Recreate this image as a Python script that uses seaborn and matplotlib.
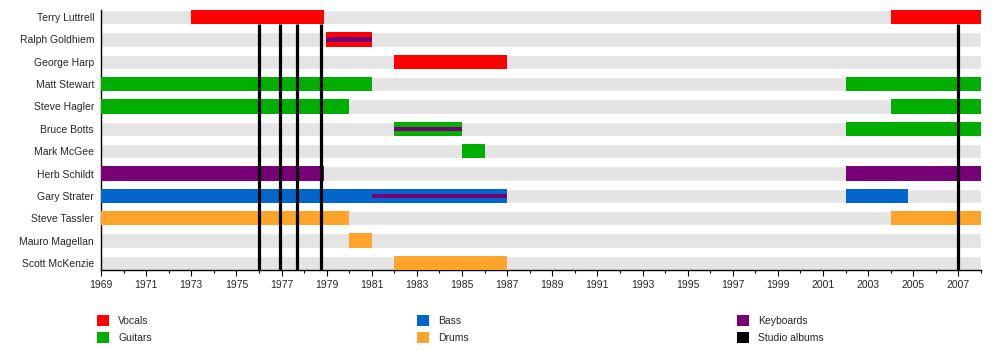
import matplotlib
matplotlib.use("Agg")
import matplotlib.pyplot as plt
from matplotlib.patches import Patch
import seaborn as sns
import pandas as pd

# ---- data ----
members = ["Terry Luttrell", "Ralph Goldhiem", "George Harp", "Matt Stewart",
           "Steve Hagler", "Bruce Botts", "Mark McGee", "Herb Schildt",
           "Gary Strater", "Steve Tassler", "Mauro Magellan", "Scott McKenzie"]

seg_member = ["Terry Luttrell", "Terry Luttrell", "Ralph Goldhiem", "George Harp",
              "Matt Stewart", "Matt Stewart", "Steve Hagler", "Steve Hagler",
              "Bruce Botts", "Bruce Botts", "Mark McGee",
              "Herb Schildt", "Herb Schildt", "Gary Strater", "Gary Strater",
              "Steve Tassler", "Steve Tassler", "Mauro Magellan", "Scott McKenzie"]
seg_role = ["Vocals", "Vocals", "Vocals", "Vocals",
            "Guitars", "Guitars", "Guitars", "Guitars",
            "Guitars", "Guitars", "Guitars",
            "Keyboards", "Keyboards", "Bass", "Bass",
            "Drums", "Drums", "Drums", "Drums"]
seg_start = [1973.0, 2004.0, 1978.95, 1982.0,
             1969.0, 2002.0, 1969.0, 2004.0,
             1982.0, 2002.0, 1985.0,
             1969.0, 2002.0, 1969.0, 2002.0,
             1969.0, 2004.0, 1980.0, 1982.0]
seg_end = [1978.9, 2008.0, 1981.0, 1987.0,
           1981.0, 2008.0, 1980.0, 2008.0,
           1985.0, 2008.0, 1986.0,
           1978.9, 2008.0, 1987.0, 2004.75,
           1980.0, 2008.0, 1981.0, 1987.0]

# secondary role stripes (thin)
stripe_member = ["Ralph Goldhiem", "Bruce Botts", "Gary Strater"]
stripe_role = ["Keyboards", "Keyboards", "Keyboards"]
stripe_start = [1978.95, 1982.0, 1981.0]
stripe_end = [1981.0, 1985.0, 1987.0]

albums = [1976.0, 1976.95, 1977.7, 1978.77, 2007.0]

year_start, year_end = 1969, 2008
tick_years = list(range(1969, 2008, 2))

role_colors = {"Vocals": "#ff0000", "Guitars": "#00ae00", "Bass": "#0066cc",
               "Drums": "#ffa42a", "Keyboards": "#770077", "Studio albums": "#000000"}

# ---- style ----
sns.set_theme(style="white")
plt.rcParams["font.family"] = ["Liberation Sans", "DejaVu Sans"]

fig = plt.figure(figsize=(10, 3.5), dpi=100)
ax = fig.add_axes([0.101, 1 - 270 / 350, 0.88, 260 / 350])

bar_h = 0.64
bg = pd.DataFrame({"member": members, "end": [year_end] * len(members)})
sns.barplot(data=bg, x="end", y="member", orient="h", color="#e4e4e4",
            width=bar_h, saturation=1, ax=ax, order=members)

pos = {m: i for i, m in enumerate(members)}
for m, r, s, e in zip(seg_member, seg_role, seg_start, seg_end):
    ax.barh(pos[m], e - s, left=s, height=bar_h, color=role_colors[r],
            linewidth=0, zorder=3)
for m, r, s, e in zip(stripe_member, stripe_role, stripe_start, stripe_end):
    ax.barh(pos[m], e - s, left=s, height=0.2, color=role_colors[r],
            linewidth=0, zorder=4)

ax.vlines(albums, ymin=len(members) - 1 + bar_h / 2, ymax=bar_h / 2,
          colors="black", linewidth=2.3, zorder=5)

ax.set_xlim(year_start, year_end)
ax.set_ylim(len(members) - 1 + bar_h / 2, -bar_h / 2)
ax.set_xticks(tick_years)
ax.set_xticklabels([str(y) for y in tick_years], fontsize=7.5)
ax.set_xticks(range(year_start, year_end + 1), minor=True)
ax.tick_params(axis="x", which="major", direction="out", length=4, width=0.8,
               color="black", pad=3, bottom=True)
ax.tick_params(axis="x", which="minor", direction="out", length=2.5, width=0.8,
               color="black", bottom=True)
ax.tick_params(axis="y", length=0, pad=5, labelsize=7.5)
ax.set_xlabel("")
ax.set_ylabel("")
for side in ["top", "right"]:
    ax.spines[side].set_visible(False)
for side in ["left", "bottom"]:
    ax.spines[side].set_visible(True)
    ax.spines[side].set_color("black")
    ax.spines[side].set_linewidth(1.0)
ax.grid(False)

legend_cols = [["Vocals", "Guitars"], ["Bass", "Drums"], ["Keyboards", "Studio albums"]]
legend_x = [0.097, 0.417, 0.737]
for names, lx in zip(legend_cols, legend_x):
    handles = [Patch(facecolor=role_colors[n], edgecolor="none", label=n) for n in names]
    fig.legend(handles=handles, loc="upper left", bbox_to_anchor=(lx, 1 - 315 / 350),
               frameon=False, fontsize=7.5, handlelength=1.15, handleheight=1.25,
               handletextpad=0.9, labelspacing=0.6, borderpad=0, borderaxespad=0)

fig.savefig("out.png", dpi=100)
